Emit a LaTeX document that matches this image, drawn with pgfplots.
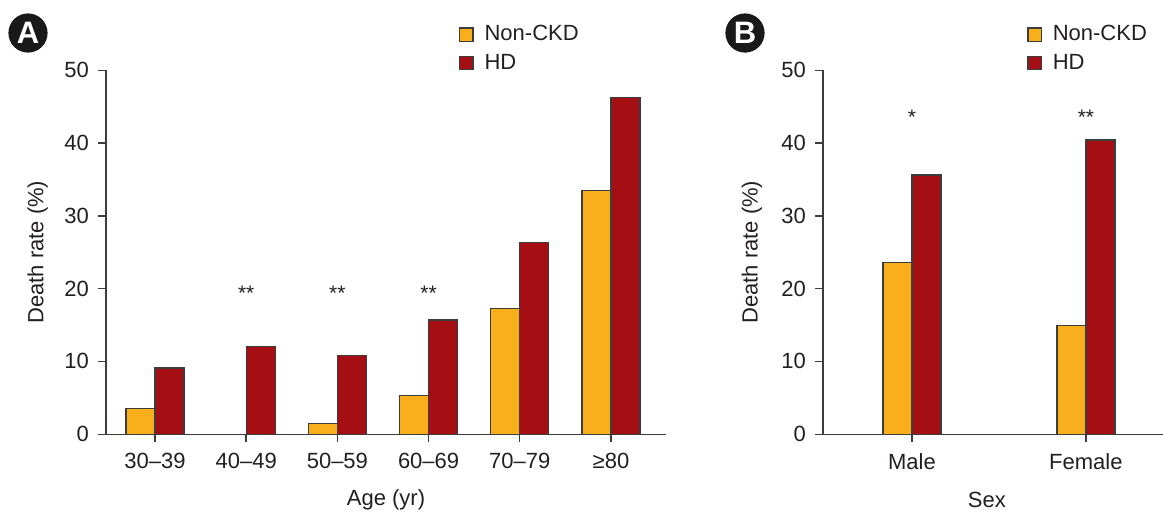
\documentclass[border=0pt]{standalone}
\usepackage{pgfplots}
\pgfplotsset{compat=1.18}
\usepackage{fontspec}
\setmainfont{Liberation Sans}
\definecolor{ckd}{HTML}{F8AF1B}
\definecolor{hd}{HTML}{A50E13}
\definecolor{axc}{HTML}{3C3C3C}
\definecolor{txt}{HTML}{231F20}
\pgfplotsset{
  common/.style={
    scale only axis,
    height=182pt,
    ymin=0, ymax=50,
    ytick={0,10,20,30,40,50},
    axis x line*=bottom,
    axis y line*=left,
    axis line style={axc, line width=0.7pt, -},
    tick style={axc, line width=0.7pt},
    major tick length=4pt,
    tick align=outside,
    xtick=data,
    ybar=0pt,
    bar width=14.5pt,
    /pgf/number format/assume math mode=true,
    tick label style={font=\fontsize{11}{12}\selectfont, text=txt},
    label style={font=\fontsize{11}{12}\selectfont, text=txt},
    legend style={draw=none, fill=none, anchor=north west, inner sep=0pt,
      font=\fontsize{11}{12}\selectfont, row sep=1.2pt, text=txt,
      /tikz/every odd column/.append style={column sep=3.5pt}},
    legend cell align=left,
    legend image code/.code={\draw[#1, draw=axc, line width=0.6pt] (0pt,-3.3pt) rectangle (6.6pt,3.3pt);},
    xticklabel style={yshift=-2pt},
    yticklabel style={xshift=-1pt},
  }
}
\begin{document}
\begin{tikzpicture}
\useasboundingbox (0,0) rectangle (581.5pt,255.5pt);
% badges
\fill[black!90] (14pt,239pt) circle (9.8pt);
\node[text=white, font=\bfseries\fontsize{15.5}{15.5}\selectfont] at (14pt,239pt) {A};
\fill[black!90] (372.5pt,239pt) circle (9.8pt);
\node[text=white, font=\bfseries\fontsize{15.5}{15.5}\selectfont] at (372.5pt,239pt) {B};

\begin{axis}[common,
  at={(53pt,38.4pt)}, anchor=south west,
  width=280pt,
  xmin=-0.537, xmax=5.603,
  xticklabels={30–39,40–49,50–59,60–69,70–79,≥80},
  xlabel={Age (yr)},
  ylabel={Death rate (\%)},
  xlabel style={at={(axis description cs:0.5,-0.18)}, anchor=center},
  ylabel style={at={(axis description cs:-0.122,0.5)}, anchor=center},
  legend style={at={(axis description cs:0.63,1.135)}},
]
\addplot[fill=ckd, draw=axc, line width=0.6pt] coordinates {(0,3.5) (1,0) (2,1.5) (3,5.3) (4,17.3) (5,33.5)};
\addplot[fill=hd, draw=axc, line width=0.6pt] coordinates {(0,9.1) (1,12.1) (2,10.8) (3,15.7) (4,26.3) (5,46.2)};
\legend{Non-CKD, HD}
\node[font=\fontsize{10.5}{11}\selectfont, text=txt] at (axis cs:1,19.4) {**};
\node[font=\fontsize{10.5}{11}\selectfont, text=txt] at (axis cs:2,19.4) {**};
\node[font=\fontsize{10.5}{11}\selectfont, text=txt] at (axis cs:3,19.4) {**};
\end{axis}

\begin{axis}[common,
  at={(411.5pt,38.4pt)}, anchor=south west,
  width=170pt,
  xmin=-0.511, xmax=1.443,
  xticklabels={Male,Female},
  xlabel={Sex},
  ylabel={Death rate (\%)},
  xlabel style={at={(axis description cs:0.482,-0.18)}, anchor=center},
  ylabel style={at={(axis description cs:-0.209,0.5)}, anchor=center},
  legend style={at={(axis description cs:0.6,1.135)}},
]
\addplot[fill=ckd, draw=axc, line width=0.6pt] coordinates {(0,23.6) (1,14.9)};
\addplot[fill=hd, draw=axc, line width=0.6pt] coordinates {(0,35.6) (1,40.4)};
\legend{Non-CKD, HD}
\node[font=\fontsize{10.5}{11}\selectfont, text=txt] at (axis cs:0,43.6) {*};
\node[font=\fontsize{10.5}{11}\selectfont, text=txt] at (axis cs:1,43.6) {**};
\end{axis}
\end{tikzpicture}
\end{document}
